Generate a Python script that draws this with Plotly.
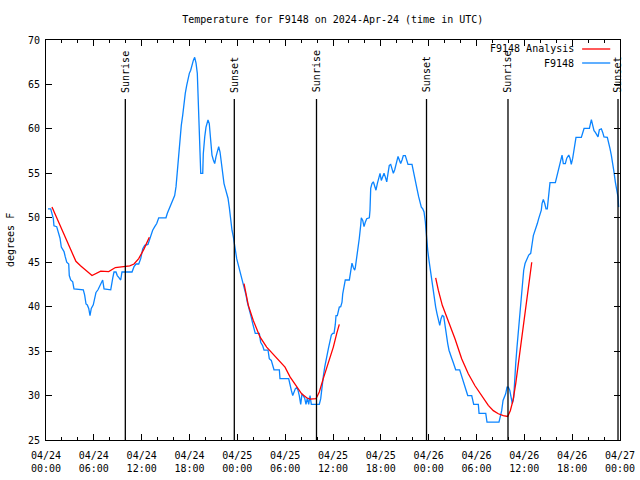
import plotly.graph_objects as go
import pandas as pd

BASE = pd.Timestamp("2024-04-24 00:00")

# Observed F9148 (hours since 04/24 00:00 UTC, degrees F)
obs_hours = [0.25, 0.59, 0.92, 1.00, 1.34, 1.51, 1.76, 1.92, 2.26, 2.42, 2.60, 2.85, 2.92, 3.10, 3.35, 3.51,
             4.68, 4.85, 5.02, 5.18, 5.36, 5.52, 5.68, 5.93, 6.11, 6.27, 6.52, 6.77, 6.94, 7.11, 7.28, 8.12,
             8.37, 8.53, 8.78, 8.94, 9.12, 9.37, 9.53, 10.79, 11.04, 11.29, 11.63, 11.88, 12.13, 12.38, 12.79,
             12.96, 13.13, 13.38, 13.64, 13.89, 14.14, 15.05, 15.22, 15.55, 15.81, 16.14, 16.31, 16.47, 16.65,
             16.81, 16.97, 17.15, 17.31, 17.47, 17.65, 17.81, 17.98, 18.15, 18.31, 18.48, 18.65, 18.82, 18.98,
             19.15, 19.32, 19.41, 19.66, 19.73, 19.91, 20.07, 20.32, 20.48, 20.66, 20.82, 20.99, 21.16, 21.32,
             21.49, 21.66, 21.83, 21.99, 22.17, 22.33, 22.49, 22.67, 22.83, 22.99, 23.17, 23.33, 23.50, 23.67,
             23.92, 24.08, 24.25, 24.42, 24.59, 24.75, 24.92, 25.09, 25.25, 25.42, 25.59, 25.75, 25.93, 26.09,
             26.25, 26.76, 26.93, 27.18, 27.35, 27.85, 28.01, 28.26, 28.44, 28.60, 29.27, 29.35, 30.44, 30.61,
             30.77, 30.95, 31.11, 31.27, 31.45, 31.61, 31.77, 31.95, 32.11, 32.28, 32.45, 32.61, 32.78, 32.95,
             33.12, 33.28, 34.28, 34.46, 34.62, 34.78, 34.96, 35.12, 35.29, 35.46, 35.62, 35.79, 35.96, 36.13,
             36.29, 36.38, 36.54, 36.63, 36.79, 36.97, 37.13, 37.22, 37.38, 37.54, 38.05, 38.22, 38.38, 38.55,
             38.72, 38.80, 38.97, 39.14, 39.30, 39.48, 39.55, 39.73, 39.89, 40.05, 40.23, 40.56, 40.64, 40.73,
             40.89, 41.06, 41.23, 41.39, 41.56, 41.73, 41.90, 42.06, 42.24, 42.40, 42.56, 42.74, 42.90, 43.06,
             43.24, 43.40, 43.57, 43.74, 43.90, 44.07, 44.16, 44.32, 44.49, 44.66, 44.82, 45.07, 45.25, 45.41,
             45.91, 46.07, 46.25, 46.41, 46.57, 46.75, 46.92, 47.08, 47.26, 47.42, 47.58, 47.67, 47.75, 47.88,
             48.04, 48.21, 48.38, 48.54, 48.71, 48.88, 49.05, 49.21, 49.39, 49.55, 49.71, 49.89, 50.05, 50.21,
             50.39, 50.55, 50.72, 50.89, 51.05, 51.21, 51.39, 51.89, 52.06, 52.22, 52.40, 52.56, 52.72, 52.90,
             53.40, 53.56, 53.65, 54.23, 54.32, 55.16, 55.32, 56.82, 56.99, 57.16, 57.33, 57.49, 57.66, 57.83,
             57.99, 58.17, 58.33, 58.49, 58.67, 58.74, 58.92, 59.08, 59.25, 59.42, 59.58, 59.75, 59.92, 60.09,
             60.25, 60.55, 60.80, 60.96, 61.05, 61.13, 61.47, 61.63, 61.80, 62.13, 62.22, 62.38, 62.56, 62.72,
             62.88, 62.97, 63.06, 63.22, 63.89, 64.06, 64.22, 64.39, 64.56, 64.73, 64.89, 65.14, 65.32, 65.57,
             65.73, 65.89, 66.07, 66.23, 66.40, 66.48, 67.15, 67.32, 67.49, 68.16, 68.33, 68.41, 68.58, 68.74,
             68.91, 69.08, 69.24, 69.41, 69.66, 69.83, 69.99, 70.41, 70.58, 70.74, 70.91, 71.08, 71.24, 71.41,
             71.58, 71.75, 71.83]
obs_temp = [51.0, 51.0, 49.9, 49.1, 49.0, 48.4, 47.7, 46.7, 46.2, 45.6, 45.0, 44.8, 43.5, 43.0, 42.8, 42.0,
            41.9, 41.3, 40.3, 40.2, 39.8, 39.0, 39.8, 40.2, 40.9, 41.6, 41.9, 42.4, 42.7, 43.0, 42.0, 41.9,
            43.2, 43.9, 43.9, 43.5, 43.3, 43.0, 43.9, 43.9, 44.5, 44.8, 44.8, 45.4, 46.5, 46.9, 47.0,
            47.55, 48.0, 48.6, 49.0, 49.35, 50.0, 50.0, 50.5, 51.2, 51.8, 52.5, 53.5, 55.2, 57.05,
            59.1, 60.4, 61.55, 63.2, 64.0, 64.9, 65.6, 66.25, 66.6, 67.2, 67.7, 68.05, 67.4, 66.25,
            61.9, 57.2, 55.0, 55.0, 57.2, 59.1, 60.2, 61.0, 60.6, 58.7, 57.05, 56.5, 56.1, 56.85,
            57.6, 58.0, 57.4, 56.1, 54.8, 53.85, 53.3, 52.7, 52.2, 51.2, 49.7, 48.6, 47.85, 46.7,
            45.4, 44.85, 44.3, 43.7, 43.0, 42.4, 41.85, 41.3, 40.5, 40.0, 39.4, 38.8, 38.1, 37.5,
            37.0, 37.0, 36.0, 35.6, 35.1, 35.1, 34.15, 33.95, 33.4, 32.9, 32.9, 31.9, 31.9, 31.1,
            30.6, 30.0, 30.4, 30.75, 30.9, 30.6, 30.0, 29.0, 30.2, 30.0, 29.7, 29.0, 29.7, 29.0,
            30.0, 29.0, 29.0, 29.65, 30.6, 32.1, 33.2, 33.8, 34.7, 35.45, 36.2, 36.8, 37.0, 37.0,
            38.0, 39.0, 39.0, 39.3, 39.95, 40.0, 40.5, 41.45, 42.5, 43.0, 43.0, 43.9, 44.9, 44.4,
            44.1, 44.4, 45.4, 46.5, 47.7, 49.2, 50.0, 49.7, 49.0, 49.5, 49.9, 50.0, 50.85, 53.3,
            53.85, 54.05, 53.5, 53.1, 53.85, 54.6, 55.0, 54.2, 54.6, 55.0, 54.6, 54.05, 55.0, 55.9,
            56.0, 55.5, 55.0, 55.4, 55.9, 56.5, 56.9, 56.5, 56.1, 56.5, 57.0, 57.0, 56.5, 56.0,
            56.0, 55.2, 54.4, 53.85, 53.1, 52.35, 51.8, 51.2, 51.0, 50.65, 49.55, 48.2, 47.5, 46.35,
            45.2, 44.1, 43.0, 41.85, 40.9, 39.95, 39.2, 38.45, 37.9, 38.65, 39.0, 38.9, 37.7, 36.8,
            35.85, 35.1, 34.5, 34.2, 33.8, 33.4, 32.9, 32.9, 32.4, 31.9, 31.5, 30.95, 30.6, 30.0,
            30.0, 29.45, 29.0, 29.0, 28.0, 28.0, 27.0, 27.0, 27.6, 28.3, 29.45, 29.8, 30.2, 30.95,
            30.95, 30.6, 29.9, 29.1, 29.8, 31.1, 33.6, 35.45, 37.3, 39.2, 41.1, 43.0, 44.1, 44.85,
            45.2, 45.8, 46.0, 46.7, 47.5, 48.0, 48.8, 49.35, 49.9, 50.85, 51.6, 52.05, 51.6, 51.0,
            51.0, 51.8, 53.1, 53.95, 53.95, 54.6, 55.0, 55.55, 56.5, 57.05, 56.1, 56.1, 56.7, 57.05,
            56.7, 56.0, 56.7, 57.6, 58.55, 59.05, 59.05, 59.5, 60.05, 60.05, 60.6, 61.05, 60.4, 59.8,
            59.6, 59.3, 59.1, 59.9, 60.0, 59.6, 59.1, 59.05, 58.55, 57.8, 57.05, 56.3, 55.2, 54.05,
            53.3, 52.35, 51.2]

# F9148 Analysis, three segments
ana1_hours = [0.75, 1.5, 2.5, 3.75, 4.33, 5.77, 6.86, 7.87, 8.7, 9.78, 10.5, 11.04, 11.63, 12.3, 12.96]
ana1_temp = [51.2, 49.7, 47.6, 45.1, 44.6, 43.5, 44.0, 43.95, 44.4, 44.5, 44.6, 44.8, 45.4, 46.5, 47.8]
ana2_hours = [24.84, 25.38, 26.0, 26.84, 27.68, 28.94, 29.98, 30.61, 31.45, 32.07, 32.7, 33.12, 33.87,
              34.28, 34.78, 35.41, 36.04, 36.47, 36.79]
ana2_temp = [42.6, 40.15, 38.45, 36.6, 35.45, 34.15, 33.2, 32.1, 30.95, 30.2, 29.75, 29.6, 29.65,
             30.4, 31.9, 33.6, 35.45, 37.0, 38.0]
ana3_hours = [48.88, 49.21, 49.71, 50.46, 51.30, 52.14, 52.97, 53.81, 54.65, 55.48, 56.11, 56.74, 57.36,
              57.91, 58.24, 58.58, 58.92, 59.25, 59.67, 60.09, 60.42, 60.75, 60.93]
ana3_temp = [43.25, 41.85, 40.15, 38.45, 36.4, 34.15, 32.45, 31.1, 30.0, 28.9, 28.3, 27.95, 27.75,
             27.65, 28.3, 29.45, 31.35, 33.6, 36.2, 39.6, 41.85, 44.1, 45.0]

sunrise_hours = [9.95, 33.93, 57.95]
sunset_hours = [23.62, 47.73, 71.75]

def to_time(hours):
    return [BASE + pd.Timedelta(hours=h) for h in hours]

ana_x, ana_y = [], []
for hs, ts in [(ana1_hours, ana1_temp), (ana2_hours, ana2_temp), (ana3_hours, ana3_temp)]:
    ana_x += to_time(hs) + [None]
    ana_y += ts + [None]

FONT = "DejaVu Sans Mono"
RED = "#ff0000"
BLUE = "#0a84ff"

fig = go.Figure()
fig.add_trace(go.Scatter(x=to_time(obs_hours), y=obs_temp, mode="lines", name="F9148",
                         line=dict(color=BLUE, width=1.3)))
fig.add_trace(go.Scatter(x=ana_x, y=ana_y, mode="lines", name="F9148 Analysis",
                         line=dict(color=RED, width=1.3), connectgaps=False))

shapes = []
annotations = []
for label, hours in [("Sunrise", sunrise_hours), ("Sunset", sunset_hours)]:
    for h in hours:
        t = BASE + pd.Timedelta(hours=h)
        shapes.append(dict(type="line", xref="x", yref="y", x0=t, x1=t, y0=25, y1=63.35,
                           line=dict(color="black", width=1.3)))
        annotations.append(dict(x=t, y=63.85, xref="x", yref="y", text=label, textangle=-90,
                                showarrow=False, yanchor="bottom", xanchor="center",
                                font=dict(family=FONT, size=10, color="black")))

# legend (text then sample line, as in the original)
for name, color, ypos in [("F9148 Analysis", RED, 0.9775), ("F9148", BLUE, 0.9425)]:
    annotations.append(dict(x=0.923, y=ypos, xref="paper", yref="paper", text=name, showarrow=False,
                            xanchor="right", yanchor="middle",
                            font=dict(family=FONT, size=10, color="black")))
    shapes.append(dict(type="line", xref="paper", yref="paper", x0=0.934, x1=0.983, y0=ypos, y1=ypos,
                       line=dict(color=color, width=1.3)))

annotations.append(dict(x=-0.0627, y=0.5, xref="paper", yref="paper", text="degrees F", textangle=-90,
                        showarrow=False, xanchor="center", yanchor="middle",
                        font=dict(family=FONT, size=10, color="black")))

fig.update_layout(
    width=640, height=480,
    margin=dict(l=46, r=20, t=40, b=40, autoexpand=False),
    paper_bgcolor="white", plot_bgcolor="white",
    showlegend=False,
    title=dict(text="Temperature for F9148 on 2024-Apr-24 (time in UTC)", x=0.52, xanchor="center",
               y=0.96, yanchor="middle", font=dict(family=FONT, size=10, color="black")),
    font=dict(family=FONT, size=10, color="black"),
    shapes=shapes, annotations=annotations,
)
fig.update_xaxes(range=[BASE, BASE + pd.Timedelta(hours=72)], type="date", automargin=False,
                 dtick=6 * 3600 * 1000, tick0=BASE, tickformat="%m/%d<br>%H:%M",
                 ticks="inside", ticklen=6, tickcolor="black", tickwidth=1, ticklabelstandoff=6,
                 minor=dict(dtick=2 * 3600 * 1000, ticks="inside", ticklen=3, tickcolor="black"),
                 showline=True, linecolor="black", linewidth=1, mirror="allticks",
                 showgrid=False, zeroline=False, tickfont=dict(family=FONT, size=10))
fig.update_yaxes(range=[25, 70], dtick=5, ticks="inside", ticklen=6, tickcolor="black", automargin=False,
                 ticklabelstandoff=3,
                 showline=True, linecolor="black", linewidth=1, mirror="allticks",
                 showgrid=False, zeroline=False, tickfont=dict(family=FONT, size=10))

# remove the browser's default 8px page margin so the 640x480 figure fills the window
fig.write_html("out.html", config={"displayModeBar": False},
               post_script="document.body.style.margin='0';")
